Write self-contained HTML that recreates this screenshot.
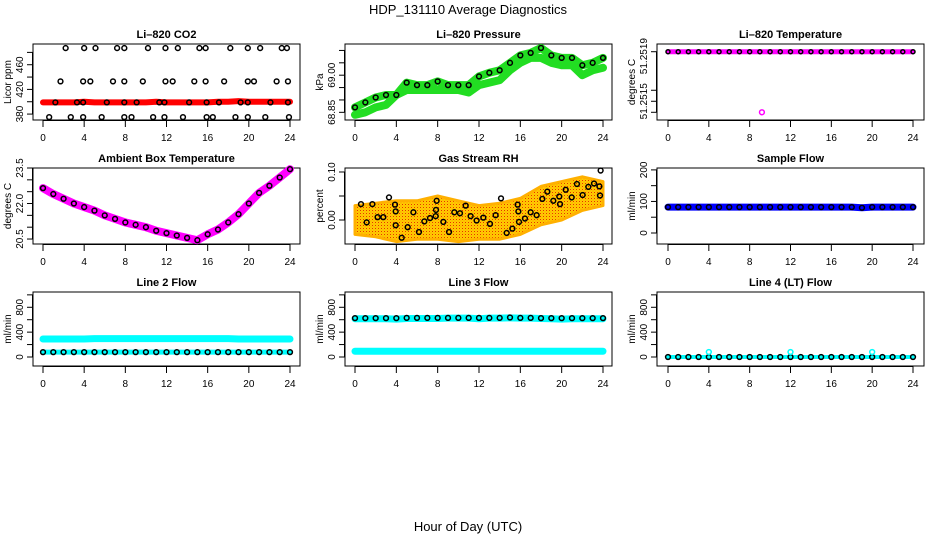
<!DOCTYPE html>
<html><head><meta charset="utf-8"><style>
html,body{margin:0;padding:0;background:#fff;}
svg{display:block;font-family:"Liberation Sans",sans-serif;}
</style></head><body>
<svg id="c" width="936" height="540" viewBox="0 0 936 540" xmlns="http://www.w3.org/2000/svg">
<defs>
<pattern id="rhpat" width="3" height="3" patternUnits="userSpaceOnUse"><rect width="3" height="3" fill="#ffcc00"/><rect x="0" y="0" width="1" height="1" fill="#e83000"/><rect x="1.5" y="1.5" width="1" height="1" fill="#ff9900"/></pattern>
</defs>
<text x="468" y="14" text-anchor="middle" font-size="13">HDP_131110  Average Diagnostics</text>
<text x="468" y="531" text-anchor="middle" font-size="13">Hour of Day (UTC)</text>
</svg>
<script>
// ---- data ----
const hours = [0,1,2,3,4,5,6,7,8,9,10,11,12,13,14,15,16,17,18,19,20,21,22,23,24];
const xTicks = [0,4,8,12,16,20,24];
// CO2
const co2Band = [399,399,399,399,400,399,399,399,399,399,399,400,399,399,399,399,399,400,400,401,400,400,400,400,400];
const co2Hours = [2.2,4.0,5.1,7.2,7.9,10.2,11.9,13.1,15.2,15.8,18.2,19.9,21.1,23.2,23.7,
 1.7,3.9,4.6,6.8,7.9,9.7,11.9,12.6,14.7,15.8,17.6,19.9,20.5,22.7,23.8,
 1.2,3.3,3.9,6.2,7.9,9.1,11.3,11.8,14.2,15.9,17.1,19.2,19.9,22.1,23.8,
 0.6,2.7,3.9,5.7,7.9,8.6,10.7,11.8,13.6,15.9,16.5,18.7,19.9,21.6,23.9];
const co2Vals = [487,487,487,487,487,487,487,487,487,487,487,487,487,487,487,
 433,433,433,433,433,433,433,433,433,433,433,433,433,433,433,
 399,399,399,399,399,399,399,399,399,399,399,399,399,399,399,
 375,375,375,375,375,375,375,375,375,375,375,375,375,375,375];
// Pressure
const presUpper = [68.87,68.89,68.91,68.92,68.92,68.97,68.96,68.96,68.975,68.96,68.96,68.96,68.995,69.01,69.02,69.05,69.08,69.09,69.11,69.08,69.07,69.07,69.04,69.05,69.07];
const presLower = [68.84,68.85,68.87,68.88,68.92,68.94,68.94,68.94,68.94,68.94,68.94,68.93,68.96,68.97,68.98,69.02,69.05,69.07,69.07,69.05,69.04,69.04,69.0,69.02,69.03];
// Li-820 temperature
const tempVals = [51.25195,51.25195,51.25195,51.25195,51.25195,51.25195,51.25195,51.25195,51.25195,51.25195,51.25195,51.25195,51.25195,51.25195,51.25195,51.25195,51.25195,51.25195,51.25195,51.25195,51.25195,51.25195,51.25195,51.25195,51.25195];
const tempOutlierHour = [9.2];
const tempOutlierVal = [51.2514];
// Ambient box temperature
const ambVals = [22.65,22.4,22.2,22.0,21.85,21.7,21.5,21.35,21.2,21.1,21.0,20.85,20.75,20.65,20.55,20.45,20.7,20.9,21.2,21.55,22.0,22.45,22.75,23.1,23.45];
// RH
const rhBandHours = [0,2,4,6,8,10,12,14,16,18,20,22,24];
const rhUpper = [0.03,0.035,0.04,0.04,0.05,0.04,0.03,0.035,0.045,0.07,0.08,0.09,0.08];
const rhLower = [-0.03,-0.035,-0.045,-0.04,-0.04,-0.045,-0.04,-0.04,-0.03,-0.01,0.0,0.02,0.03];
const rhHours = [0.58,1.13,1.68,2.19,2.74,3.29,3.87,3.94,3.94,4.52,5.1,5.65,6.19,6.71,7.26,7.81,7.84,7.9,8.55,9.1,9.61,10.16,10.71,11.19,11.77,12.42,13.06,13.61,14.13,14.68,15.23,15.74,15.81,15.87,16.45,17.0,17.58,18.13,18.61,19.19,19.77,19.84,20.39,20.97,21.48,22.03,22.58,23.13,23.65,23.77,23.71];
const rhVals = [0.033,-0.005,0.033,0.006,0.006,0.047,0.032,-0.011,0.018,-0.037,-0.015,0.016,-0.025,-0.003,0.004,0.008,0.021,0.04,-0.004,-0.025,0.016,0.014,0.03,0.008,-0.001,0.005,-0.008,0.01,0.045,-0.027,-0.018,0.032,0.018,-0.004,0.003,0.016,0.01,0.044,0.059,0.04,0.049,0.033,0.063,0.047,0.075,0.052,0.069,0.076,0.07,0.103,0.051];
// Flows
const sampleFlow = [82,82,82,82,82,82,82,82,82,82,82,82,82,82,82,82,82,82,82,80,82,82,82,82,82];
const line2Cyan = [290,290,290,290,290,295,295,295,295,295,295,295,295,295,295,295,295,295,295,290,290,290,290,290,290];
const line2Black = [78,78,78,78,78,78,78,78,78,78,78,78,78,78,78,78,78,78,78,78,78,78,78,78,78];
const line3Black = [625,625,625,625,625,630,630,630,630,630,630,630,630,630,630,635,630,630,625,625,625,625,625,625,625];
const line3CyanHi = [615,615,615,615,610,620,620,620,620,625,625,625,615,625,625,630,625,625,620,615,610,615,615,615,615];
const line3CyanLo = [92,92,92,92,92,92,92,92,92,92,92,92,92,92,92,92,92,92,92,92,92,92,92,92,92];
const line4Black = [0,0,0,0,0,0,0,0,0,0,0,0,0,0,0,0,0,0,0,0,0,0,0,0,0];
const line4OutHours = [4,12,20];
const line4OutVals = [80,80,80];

// ---- helpers ----
const svg = document.getElementById('c');
const NS = 'http://www.w3.org/2000/svg';
function mk(tag, attrs, parent){ const e=document.createElementNS(NS,tag); for(const k in attrs) e.setAttribute(k,attrs[k]); (parent||svg).appendChild(e); return e; }
function panel(p){
  const g = mk('g',{});
  
  
  p.sx = h => p.x0 + (h/24)*(p.x24-p.x0);
  p.sy = v => p.bottom - (v-p.ymin)/(p.ymax-p.ymin)*(p.bottom-p.top);
  p.g = g;
  const t = mk('text',{x:(p.bl+p.br)/2, y:p.top-6, 'text-anchor':'middle','font-size':11,'font-weight':'bold'},g);
  t.textContent = p.title;
  
  
  const yl = mk('text',{x:0,y:0,'text-anchor':'middle','font-size':10,transform:`translate(${p.bl-22},${(p.top+p.bottom)/2}) rotate(-90)`},g);
  yl.textContent = p.ylabel;
  
  
  return g;
}
function axes(p){
  const g=p.g;
  const box = mk('rect',{x:p.bl,y:p.top,width:p.br-p.bl,height:p.bottom-p.top,fill:'none',stroke:'#000','stroke-width':1},g);
  
  
  const xa = mk('g',{},g);
  
  
  mk('line',{x1:p.sx(0),x2:p.sx(24),y1:p.bottom+0.5,y2:p.bottom+0.5,stroke:'#000'},xa);
  xTicks.forEach(h=>{
    mk('line',{x1:p.sx(h),x2:p.sx(h),y1:p.bottom,y2:p.bottom+7,stroke:'#000'},xa);
    const t=mk('text',{x:p.sx(h),y:p.bottom+21,'text-anchor':'middle','font-size':10},xa);
    t.textContent=h;
  });
  const ya = mk('g',{},g);
  
  
  const ty = p.ticks.map(v=>p.sy(v));
  mk('line',{x1:p.bl-0.5,x2:p.bl-0.5,y1:Math.min(...ty),y2:Math.max(...ty),stroke:'#000'},ya);
  p.ticks.forEach((v,i)=>{
    mk('line',{x1:p.bl-6,x2:p.bl,y1:p.sy(v),y2:p.sy(v),stroke:'#000'},ya);
  });
  p.labels.forEach((v,i)=>{
    const y = p.sy(v);
    const t=mk('text',{x:0,y:0,'text-anchor':'middle','font-size':10,transform:`translate(${p.bl-10},${y}) rotate(-90)`},ya);
    t.textContent = p.fmt ? p.fmt(v) : v;
  });
}
function band(p, hs, vs, color, w, name){
  const pl = mk('polyline',{points:hs.map((h,i)=>p.sx(h)+','+p.sy(vs[i])).join(' '),fill:'none',stroke:color,'stroke-width':w,'stroke-linejoin':'round','stroke-linecap':'round'},p.g);
  
  
}
function circles(p, hs, vs, color, name, r){
  const g=mk('g',{},p.g);
  
  
  hs.forEach((h,i)=>{ mk('circle',{cx:p.sx(h),cy:p.sy(vs[i]),r:r||2.4,fill:'none',stroke:color,'stroke-width':1.5},g); });
}

const cols = [{bl:33,br:300,x0:43,x24:290},{bl:345,br:612,x0:355,x24:603},{bl:657,br:924,x0:668,x24:913}];
const rows = [{top:44,bottom:120},{top:168,bottom:244},{top:292,bottom:366}];
function P(r,c,o){ return Object.assign({},cols[c],rows[r],o); }

// Panel 1 CO2
let p = P(0,0,{name:'co2-panel',title:'Li\u2013820 CO2',ylabel:'Licor ppm',ymin:370.4,ymax:493.6,ticks:[380,400,420,440,460,480],labels:[380,420,460]});
panel(p); axes(p);
band(p,hours,co2Band,'#ff0000',6,'co2-red-series');
circles(p,co2Hours,co2Vals,'#000','co2-black-points');

// Panel 2 Pressure
p = P(0,1,{name:'pressure-panel',title:'Li\u2013820 Pressure',ylabel:'kPa',ymin:68.819,ymax:69.126,ticks:[68.85,68.9,68.95,69.0,69.05,69.1],labels:[68.85,69.0],fmt:v=>v.toFixed(2)});
panel(p); axes(p);
band(p,hours,presLower,'#22dd22',8,'pressure-lower-band');
band(p,hours,presUpper,'#22dd22',8,'pressure-upper-band');
circles(p,hours,presUpper,'#000','pressure-points');

// Panel 3 Li-820 temperature
p = P(0,2,{name:'li820-temperature-panel',title:'Li\u2013820 Temperature',ylabel:'degrees C',ymin:51.25133,ymax:51.25202,ticks:[51.25195,51.2516,51.2515,51.2514],labels:[]});
panel(p); axes(p);
[[51.25195-0.00004,'51.2519'],[51.2515,'51.2515']].forEach(([v,s])=>{
  const t=mk('text',{x:0,y:0,'text-anchor':'middle','font-size':10,transform:`translate(${p.bl-10},${p.sy(v)}) rotate(-90)`},p.g); t.textContent=s;
});
band(p,hours,tempVals,'#ff00ff',5,'temperature-magenta-series');
circles(p,hours,tempVals,'#000','temperature-black-points',2);
circles(p,tempOutlierHour,tempOutlierVal,'#ff00ff','temperature-outlier');

// Panel 4 Ambient
p = P(1,0,{name:'ambient-temperature-panel',title:'Ambient Box Temperature',ylabel:'degrees C',ymin:20.29,ymax:23.5,ticks:[20.5,21,21.5,22,22.5,23,23.5],labels:[20.5,22.0,23.5],fmt:v=>v.toFixed(1)});
panel(p); axes(p);
band(p,hours,ambVals,'#ff00ff',8,'ambient-magenta-series');
circles(p,hours,ambVals,'#000','ambient-black-points');

// Panel 5 RH
p = P(1,1,{name:'gas-rh-panel',title:'Gas Stream RH',ylabel:'percent',ymin:-0.05,ymax:0.1083,ticks:[0,0.05,0.1],labels:[0,0.1],fmt:v=>v.toFixed(2)});
panel(p); axes(p);
{
  const pts = rhBandHours.map((h,i)=>p.sx(h)+','+p.sy(rhUpper[i])).concat(rhBandHours.slice().reverse().map((h,i)=>p.sx(h)+','+p.sy(rhLower[rhBandHours.length-1-i])));
  const poly = mk('polygon',{points:pts.join(' '),fill:'url(#rhpat)',stroke:'#ffb000','stroke-width':3,'stroke-linejoin':'round'},p.g);
  
  
}
circles(p,rhHours,rhVals,'#000','rh-black-points');

// Panel 6 sample flow
p = P(1,2,{name:'sample-flow-panel',title:'Sample Flow',ylabel:'ml/min',ymin:-34.9,ymax:206,ticks:[0,50,100,150,200],labels:[0,100,200]});
panel(p); axes(p);
band(p,hours,sampleFlow,'#0000ff',7,'sample-flow-blue');
circles(p,hours,sampleFlow,'#000','sample-flow-points');

// Panel 7 line 2
const flowTicks=[0,200,400,600,800,1000];
p = P(2,0,{name:'line2-flow-panel',title:'Line 2 Flow',ylabel:'ml/min',ymin:-145,ymax:1046,ticks:flowTicks,labels:[0,400,800]});
panel(p); axes(p);
band(p,hours,line2Cyan,'#00ffff',7,'line2-cyan-series');
band(p,hours,line2Black,'#00ffff',5,'line2-cyan-low');
circles(p,hours,line2Black,'#000','line2-black-points');

// Panel 8 line 3
p = P(2,1,{name:'line3-flow-panel',title:'Line 3 Flow',ylabel:'ml/min',ymin:-145,ymax:1046,ticks:flowTicks,labels:[0,400,800]});
panel(p); axes(p);
band(p,hours,line3CyanHi,'#00ffff',7,'line3-cyan-high');
band(p,hours,line3CyanLo,'#00ffff',7,'line3-cyan-low');
circles(p,hours,line3Black,'#000','line3-black-points');

// Panel 9 line 4
p = P(2,2,{name:'line4-flow-panel',title:'Line 4 (LT) Flow',ylabel:'ml/min',ymin:-145,ymax:1046,ticks:flowTicks,labels:[0,400,800]});
panel(p); axes(p);
band(p,hours,line4Black,'#00ffff',4,'line4-cyan-series');
circles(p,hours,line4Black,'#000','line4-black-points');
circles(p,line4OutHours,line4OutVals,'#00ffff','line4-cyan-outliers');
</script>
</body></html>
